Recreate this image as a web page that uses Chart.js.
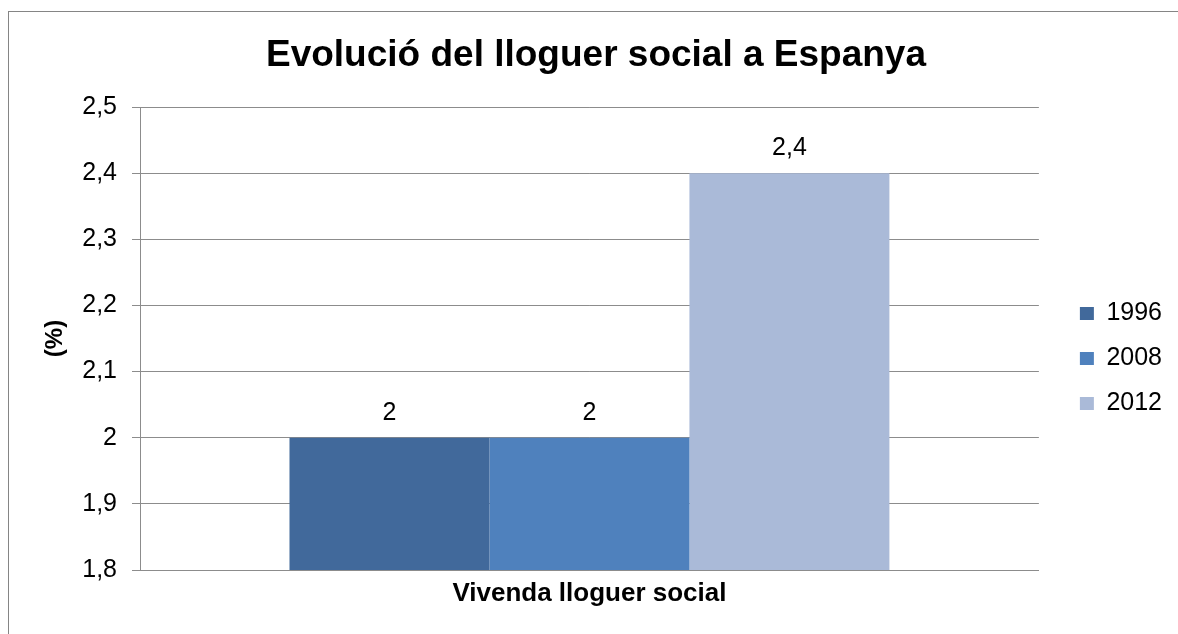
<!DOCTYPE html>
<html>
<head>
<meta charset="utf-8">
<script src="https://cdn.jsdelivr.net/npm/chart.js@4/dist/chart.umd.min.js"></script>
<style>
  html, body { margin: 0; padding: 0; background: #fff; overflow: hidden; }
  #wrap { position: relative; width: 1178px; height: 634px; }
  #frame { position: absolute; left: 8px; top: 11px; width: 1300px; height: 800px;
           border-left: 1px solid #858585; border-top: 1px solid #858585; pointer-events: none; }
  canvas { position: absolute; left: 0; top: 0; }
</style>
</head>
<body>
<div id="wrap">
  <canvas id="c" width="1178" height="634"></canvas>
  <div id="frame"></div>
</div>
<script>
// ---- data ----
const chartTitle = 'Evolució del lloguer social a Espanya';
const categories = ['Vivenda lloguer social'];
const seriesNames = ['1996', '2008', '2012'];
const values1996 = [2];
const values2008 = [2];
const values2012 = [2.4];
const seriesColors = ['#41699B', '#4F81BD', '#AABAD8'];
const yMin = 1.8, yMax = 2.5, yStep = 0.1;
const yAxisTitle = '(%)';

const FONT = '"Liberation Sans", Arial, sans-serif';
const fmt = v => String(Math.round(v * 10) / 10).replace('.', ',');

const dataLabels = {
  id: 'dataLabels',
  afterDatasetsDraw(chart) {
    const ctx = chart.ctx;
    ctx.save();
    ctx.font = '25px ' + FONT;
    ctx.fillStyle = '#000';
    ctx.textAlign = 'center';
    ctx.textBaseline = 'middle';
    chart.data.datasets.forEach((ds, i) => {
      const meta = chart.getDatasetMeta(i);
      meta.data.forEach((bar, j) => {
        ctx.fillText(fmt(ds.data[j]), bar.x, bar.y - 25);
      });
    });
    ctx.restore();
  }
};

const legendShift = {
  id: 'legendShift',
  afterLayout(chart) {
    const lg = chart.legend;
    if (!lg) return;
    const dx = 21, dy = 20;
    lg.left += dx; lg.right += dx;
    lg.top += dy; lg.bottom += dy;
  }
};

const datasetsValues = [values1996, values2008, values2012];

new Chart(document.getElementById('c'), {
  type: 'bar',
  data: {
    labels: categories,
    datasets: seriesNames.map((name, i) => ({
      label: name,
      data: datasetsValues[i],
      backgroundColor: seriesColors[i],
      borderWidth: 0,
      categoryPercentage: 0.6674,
      barPercentage: 1.0
    }))
  },
  options: {
    responsive: false,
    devicePixelRatio: 1,
    animation: false,
    layout: { padding: { left: 41, right: 27, top: 0, bottom: 0 } },
    plugins: {
      title: {
        display: true,
        text: chartTitle,
        color: '#000',
        font: { family: FONT, size: 37, weight: 'bold' },
        padding: { top: 34, bottom: 28.6 }
      },
      legend: {
        display: true,
        position: 'right',
        fullSize: false,
        labels: {
          color: '#000',
          font: { family: FONT, size: 25 },
          boxWidth: 14,
          boxHeight: 13,
          padding: 20
        }
      },
      tooltip: { enabled: false }
    },
    scales: {
      x: {
        grid: { display: false, drawTicks: false },
        border: { display: true, color: '#8c8c8c', width: 1 },
        ticks: {
          color: '#000',
          padding: 8,
          font: { family: FONT, size: 26, weight: 'bold' }
        },
        afterFit(scale) { scale.height = 64; }
      },
      y: {
        min: yMin,
        max: yMax,
        grid: { color: '#8c8c8c', lineWidth: 1, tickLength: 8, drawTicks: true },
        border: { display: true, color: '#8c8c8c', width: 1 },
        ticks: {
          stepSize: yStep,
          color: '#000',
          padding: 15,
          font: { family: FONT, size: 25 },
          callback: v => fmt(v)
        },
        title: {
          display: true,
          text: yAxisTitle,
          color: '#000',
          font: { family: FONT, size: 24, weight: 'bold' },
          padding: { top: 0, bottom: 0 }
        },
        afterFit(scale) { scale.width = 99; }
      }
    }
  },
  plugins: [dataLabels, legendShift]
});
</script>
</body>
</html>
